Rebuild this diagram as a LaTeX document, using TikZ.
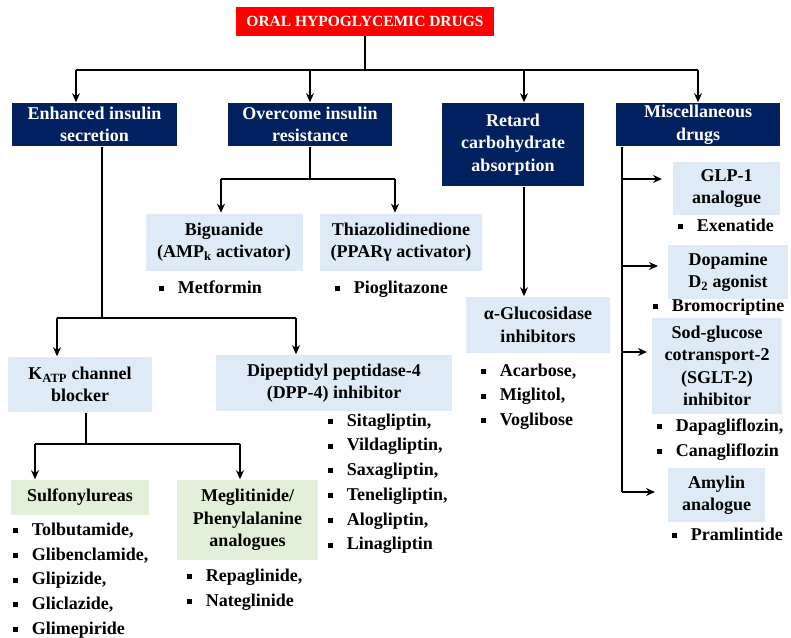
\documentclass[tikz,border=0pt]{standalone}
\usepackage{fontspec}
\setmainfont{Liberation Serif}
\usetikzlibrary{arrows.meta}
\definecolor{hdred}{RGB}{255,0,0}
\definecolor{catnavy}{RGB}{0,32,96}
\definecolor{paleblue}{RGB}{222,235,247}
\definecolor{palegreen}{RGB}{226,240,217}
\newcommand{\boxfont}{\fontsize{18}{22.5}\selectfont\bfseries}
\newcommand{\listfont}{\fontsize{18}{24.7}\selectfont\bfseries}
\newcommand{\sqb}{\makebox[19pt][l]{\rule[2.2pt]{5pt}{5pt}}}
\tikzset{
	titlebox/.style={fill=hdred, text=white, inner sep=0pt, font=\fontsize{15.5}{18}\selectfont\bfseries}
}
\tikzset{
	catbox/.style={fill=catnavy, text=white, align=center, inner sep=0pt, font=\boxfont},
	subbox/.style={fill=paleblue, align=center, inner sep=0pt, font=\boxfont},
	grpbox/.style={fill=palegreen, align=center, inner sep=0pt, font=\boxfont},
	druglist/.style={anchor=north west, align=left, inner sep=0pt, font=\listfont}
}

\begin{document}
\begin{tikzpicture}[x=1pt, y=-1pt, >={Stealth[length=9pt,width=8pt]}, line width=1.6pt]
      \useasboundingbox[fill=white] (0,0) rectangle (791,637);
      \node[titlebox, minimum width=258, minimum height=29] (title) at (365,21) {ORAL HYPOGLYCEMIC DRUGS};
      % the four main groups
      \node[catbox, minimum width=165, minimum height=43] (enh) at (94.5,124.5) {Enhanced insulin\\secretion};
      \node[catbox, minimum width=164, minimum height=43] (ovr) at (310,124.5) {Overcome insulin\\resistance};
      \node[catbox, minimum width=142, minimum height=83] (ret) at (513,144.5) {Retard\\carbohydrate\\absorption};
      \node[catbox, minimum width=164, minimum height=43] (misc) at (698,124.5) {Miscellaneous\\drugs};
      % drug classes
      \node[subbox, minimum width=157, minimum height=57] (bgn) at (224,242) {Biguanide\\(AMP\textsubscript{k} activator)};
      \node[subbox, minimum width=162, minimum height=57] (tzd) at (401,242) {Thiazolidinedione\\(PPARγ activator)};
      \node[subbox, minimum width=144, minimum height=55] (katp) at (80,384.5) {K\textsubscript{ATP} channel\\blocker};
      \node[subbox, minimum width=236, minimum height=56] (dpp) at (334,383) {Dipeptidyl peptidase-4\\(DPP-4) inhibitor};
      \node[subbox, minimum width=144, minimum height=56] (agi) at (538,325) {α-Glucosidase\\inhibitors};
      \node[grpbox, minimum width=138, minimum height=35] (sulf) at (80,497.5) {Sulfonylureas};
      \node[grpbox, minimum width=141, minimum height=80] (megl) at (247.5,520) {Meglitinide/\\Phenylalanine\\analogues};
      \node[subbox, minimum width=107, minimum height=53] (glp) at (726.5,188.5) {GLP-1\\analogue};
      \node[subbox, minimum width=120, minimum height=54] (dopa) at (728,272) {Dopamine\\D\textsubscript{2} agonist};
      \node[subbox, minimum width=130, minimum height=96] (sglt) at (717,366) {Sod-glucose\\cotransport-2\\(SGLT-2)\\inhibitor};
      \node[subbox, minimum width=97, minimum height=54] (amyl) at (716.5,495) {Amylin\\analogue};
      % drug names under each class
      \node[druglist] (metl) at (158,280) {\sqb Metformin};
      \node[druglist] (piol) at (334,280) {\sqb Pioglitazone};
      \node[druglist] (agil) at (480,363) {\sqb Acarbose,\\\sqb Miglitol,\\\sqb Voglibose};
      \node[druglist] (dppl) at (327,413) {\sqb Sitagliptin,\\\sqb Vildagliptin,\\\sqb Saxagliptin,\\\sqb Teneligliptin,\\\sqb Alogliptin,\\\sqb Linagliptin};
      \node[druglist] (sulfl) at (12,522) {\sqb Tolbutamide,\\\sqb Glibenclamide,\\\sqb Glipizide,\\\sqb Gliclazide,\\\sqb Glimepiride};
      \node[druglist] (megll) at (186,568) {\sqb Repaglinide,\\\sqb Nateglinide};
      \node[druglist] (glpl) at (677,218) {\sqb Exenatide};
      \node[druglist] (dopl) at (652,298) {\sqb Bromocriptine};
      \node[druglist] (sgltl) at (656,418) {\sqb Dapagliflozin,\\\sqb Canagliflozin};
      \node[druglist] (amyll) at (671,527) {\sqb Pramlintide};
      % top bus from the title to the groups
      \coordinate (busW) at (76,70);
      \coordinate (busE) at (698,70);
      \coordinate (retin) at ([xshift=11pt]ret.north);
      \draw (title.south) -- (title.south |- busW);
      \draw (busW) -- (busE);
      \draw[->] (busW) -- (busW |- enh.north);
      \draw[->] (ovr.north |- busW) -- (ovr.north);
      \draw[->] (retin |- busW) -- (retin);
      \draw[->] (busE) -- (misc.north);
      % insulin resistance
      \coordinate (resW) at (221,179);
      \coordinate (resE) at (395,179);
      \draw (ovr.south) -- (ovr.south |- resW);
      \draw (resW) -- (resE);
      \draw[->] (resW) -- (resW |- bgn.north);
      \draw[->] (resE) -- (resE |- tzd.north);
      % insulin secretion
      \coordinate (enhout) at ([xshift=7.5pt]enh.south);
      \coordinate (secW) at (57,318);
      \coordinate (secE) at (296,318);
      \draw (enhout) -- (enhout |- secW);
      \draw (secW) -- (secE);
      \draw[->] (secW) -- (secW |- katp.north);
      \draw[->] (secE) -- (secE |- dpp.north);
      % channel blockers split in two
      \coordinate (katpout) at ([xshift=6pt]katp.south);
      \coordinate (blkW) at (35,444);
      \coordinate (blkE) at (240,444);
      \draw (katpout) -- (katpout |- blkW);
      \draw (blkW) -- (blkE);
      \draw[->] (blkW) -- (blkW |- sulf.north);
      \draw[->] (blkE) -- (blkE |- megl.north);
      % carbohydrate absorption
      \draw[->] (retin |- ret.south) -- (retin |- agi.north);
      % miscellaneous, one rail down the left
      \coordinate (miscout) at ([xshift=-76pt]misc.south);
      \coordinate (toglp) at (662,179);
      \coordinate (todopa) at (658,266);
      \coordinate (tosglt) at (647,352);
      \coordinate (toamyl) at (655,492);
      \draw (miscout) -- (miscout |- toamyl);
      \draw[->] (miscout |- toglp) -- (toglp);
      \draw[->] (miscout |- todopa) -- (todopa);
      \draw[->] (miscout |- tosglt) -- (tosglt);
      \draw[->] (miscout |- toamyl) -- (toamyl);
    \end{tikzpicture}
\end{document}
